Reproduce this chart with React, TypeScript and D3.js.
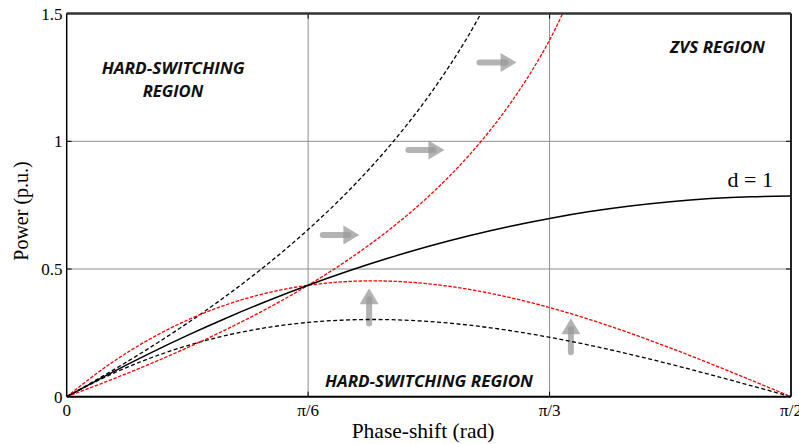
import React from "react";
import * as d3 from "d3";

// Phase shift in degrees (0 .. 90 = pi/2)
const phaseDeg = [0, 5, 10, 15, 20, 25, 30, 35, 40, 45, 50, 55, 60, 65, 70, 75, 80, 85, 90];
// d = 1 (solid black)
const powerD1 = [0, 0.0848, 0.1648, 0.24, 0.3103, 0.3757, 0.4363, 0.4921, 0.543, 0.5891, 0.6303, 0.6666, 0.6981, 0.7248, 0.7466, 0.7636, 0.7757, 0.783, 0.7854];
// lower ZVS boundary (black dashed)
const powerBlackLower = [0, 0.0801, 0.1465, 0.2, 0.2413, 0.2714, 0.2909, 0.3007, 0.3017, 0.2945, 0.2801, 0.2592, 0.2327, 0.2013, 0.1659, 0.1273, 0.0862, 0.0435, 0];
// lower boundary (red dashed)
const powerRedLower = [0, 0.1202, 0.2198, 0.3, 0.362, 0.407, 0.4363, 0.4511, 0.4525, 0.4418, 0.4202, 0.3889, 0.3491, 0.302, 0.2489, 0.1909, 0.1293, 0.0653, 0];
// upper ZVS boundary (black dashed)
const phaseBlackUpper = [0, 5, 10, 15, 20, 25, 30, 35, 40, 45, 50, 55];
const powerBlackUpper = [0, 0.0898, 0.1854, 0.288, 0.3989, 0.5202, 0.6545, 0.8052, 0.9774, 1.1781, 1.4181, 1.7142];
// upper boundary (red dashed)
const phaseRedUpper = [0, 5, 10, 15, 20, 25, 30, 35, 40, 45, 50, 55, 60, 65];
const powerRedUpper = [0, 0.0599, 0.1236, 0.192, 0.266, 0.3468, 0.4363, 0.5368, 0.6516, 0.7854, 0.9454, 1.1428, 1.3963, 1.7395];

const xTickValues = [0, 30, 60, 90];
const xTickLabels = ["0", "π/6", "π/3", "π/2"];
const yTickValues = [0, 0.5, 1, 1.5];
const yTickLabels = ["0", "0.5", "1", "1.5"];

// arrows: [x0, y0, x1, y1] in data coordinates (deg, p.u.)
const arrowsData = [
  [51.3, 1.309, 55.9, 1.309],
  [42.46, 0.966, 46.94, 0.966],
  [31.82, 0.633, 36.37, 0.633],
  [37.58, 0.287, 37.58, 0.4244],
  [62.65, 0.174, 62.65, 0.307],
];

const W = 799;
const H = 444;
const L = 66.7, R = 791, T = 13.6, B = 396.7;

export default function App() {
  const x = d3.scaleLinear().domain([0, 90]).range([L, R]);
  const y = d3.scaleLinear().domain([0, 1.5]).range([B, T]);
  const line = (xs: number[], ys: number[]) =>
    d3
      .line<number>()
      .x((_, i) => x(xs[i]))
      .y((v) => y(v))
      .curve(d3.curveCatmullRom.alpha(0.5))(ys) || "";

  const serif = "'Liberation Serif', 'Times New Roman', serif";
  const sans = "'Open Sans', 'Noto Sans', sans-serif";
  const gridColor = "#8f8f8f";

  const arrowEls = arrowsData.map((a, i) => {
    const [x0d, y0d, x1d, y1d] = a;
    const x0 = x(x0d), y0 = y(y0d), x1 = x(x1d), y1 = y(y1d);
    const dx = x1 - x0, dy = y1 - y0;
    const len = Math.hypot(dx, dy);
    const ux = dx / len, uy = dy / len;
    const headL = 16, headW = 9.5;
    const bx = x1 - ux * headL, by = y1 - uy * headL;
    const px = -uy, py = ux;
    const head = `M${x1},${y1} L${bx + px * headW},${by + py * headW} L${bx - px * headW},${by - py * headW} Z`;
    return (
      <g key={i}>
        <line x1={x0} y1={y0} x2={bx + ux * 5} y2={by + uy * 5} stroke="#9a9a9a" strokeOpacity={0.75} strokeWidth={6} strokeLinecap="round" />
        <path d={head} fill="#9a9a9a" fillOpacity={0.75} />
      </g>
    );
  });

  return (
    <svg width={W} height={H} style={{ position: "absolute", left: 0, top: 0, background: "#fff" }}>
      <defs>
        <clipPath id="plotClip">
          <rect x={L} y={T} width={R - L} height={B - T} />
        </clipPath>
      </defs>
      {/* grid */}
      {xTickValues.slice(1, -1).map((v) => (
        <line key={"gx" + v} x1={x(v)} x2={x(v)} y1={T} y2={B} stroke={gridColor} strokeWidth={1} />
      ))}
      {yTickValues.slice(1, -1).map((v) => (
        <line key={"gy" + v} x1={L} x2={R} y1={y(v)} y2={y(v)} stroke={gridColor} strokeWidth={1} />
      ))}
      {/* ticks inward */}
      {xTickValues.slice(1, -1).map((v) => (
        <g key={"tx" + v}>
          <line x1={x(v)} x2={x(v)} y1={B} y2={B - 5} stroke="#000" strokeWidth={1} />
          <line x1={x(v)} x2={x(v)} y1={T} y2={T + 5} stroke="#000" strokeWidth={1} />
        </g>
      ))}
      {yTickValues.slice(1, -1).map((v) => (
        <g key={"ty" + v}>
          <line x1={L} x2={L + 5} y1={y(v)} y2={y(v)} stroke="#000" strokeWidth={1} />
          <line x1={R} x2={R - 5} y1={y(v)} y2={y(v)} stroke="#000" strokeWidth={1} />
        </g>
      ))}

      {/* arrows */}
      {arrowEls}

      {/* curves */}
      <g clipPath="url(#plotClip)" fill="none">
        <path d={line(phaseBlackUpper, powerBlackUpper)} stroke="#000" strokeWidth={1.3} strokeDasharray="4,2.5" />
        <path d={line(phaseDeg, powerBlackLower)} stroke="#000" strokeWidth={1.3} strokeDasharray="4,2.5" />
        <path d={line(phaseRedUpper, powerRedUpper)} stroke="#ff0000" strokeWidth={1.3} strokeDasharray="3.5,1.5" />
        <path d={line(phaseDeg, powerRedLower)} stroke="#ff0000" strokeWidth={1.3} strokeDasharray="3.5,1.5" />
        <path d={line(phaseDeg, powerD1)} stroke="#000" strokeWidth={1.5} />
      </g>

      {/* frame */}
      <line x1={L} x2={R} y1={T} y2={T} stroke="#333" strokeWidth={2.5} />
      <line x1={R} x2={R} y1={T} y2={B} stroke="#222" strokeWidth={2} />
      <line x1={L} x2={L} y1={T} y2={B} stroke="#000" strokeWidth={1.5} />
      <line x1={L} x2={R} y1={B} y2={B} stroke="#000" strokeWidth={2} />

      {/* tick labels */}
      {xTickValues.map((v, i) => (
        <text key={"lx" + v} x={x(v)} y={416} textAnchor="middle" fontFamily={serif} fontSize={17}>
          {xTickLabels[i]}
        </text>
      ))}
      {yTickValues.map((v, i) => (
        <text key={"ly" + v} x={62.5} y={y(v) + 6} textAnchor="end" fontFamily={serif} fontSize={17}>
          {yTickLabels[i]}
        </text>
      ))}

      {/* axis titles */}
      <text x={423} y={437.5} textAnchor="middle" fontFamily={serif} fontSize={21.5}>
        Phase-shift (rad)
      </text>
      <text transform={`translate(27.5,211) rotate(-90)`} textAnchor="middle" fontFamily={serif} fontSize={20}>
        Power (p.u.)
      </text>

      {/* annotations */}
      <text x={773} y={187} textAnchor="end" fontFamily={serif} fontSize={22}>
        d = 1
      </text>
      <g fontFamily={sans} fontWeight="bold" fontStyle="italic" fontSize={15.5} fill="#111">
        <text x={101.7} y={74} textLength={143} lengthAdjust="spacingAndGlyphs">HARD-SWITCHING</text>
        <text x={142.7} y={96.5} textLength={60.6} lengthAdjust="spacingAndGlyphs">REGION</text>
        <text x={670} y={53.3} textLength={95} lengthAdjust="spacingAndGlyphs">ZVS REGION</text>
        <text x={325} y={386.7} textLength={208} lengthAdjust="spacingAndGlyphs">HARD-SWITCHING REGION</text>
      </g>
    </svg>
  );
}
